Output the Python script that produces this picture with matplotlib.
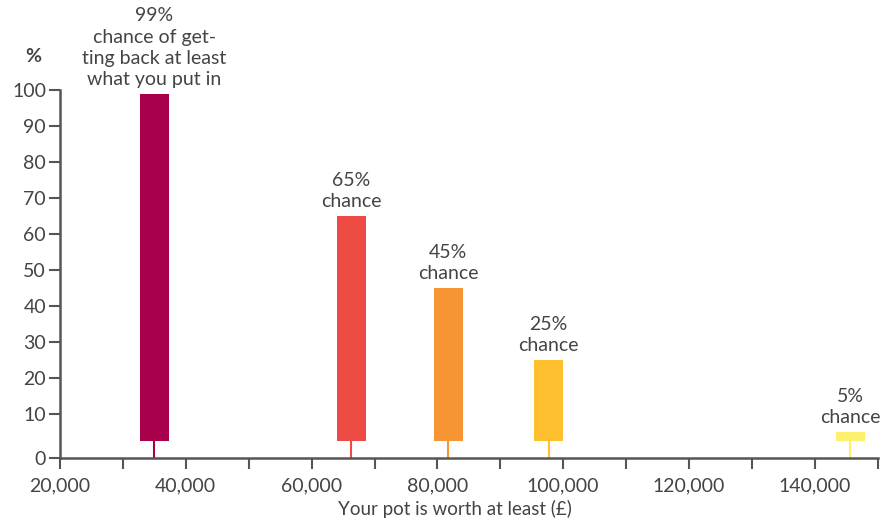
import matplotlib.pyplot as plt
from matplotlib.ticker import FuncFormatter

plt.rcParams['font.family'] = ['Lato', 'DejaVu Sans']

# Pot value thresholds (£) and chance of reaching them (%)
pot_values = [35000, 66300, 81700, 97700, 145600]
chances = [99, 65, 45, 25, 5]
labels = [
    "99%\nchance of get-\nting back at least\nwhat you put in",
    "65%\nchance",
    "45%\nchance",
    "25%\nchance",
    "5%\nchance",
]
colors = ['#A8004A', '#EF4B45', '#F79433', '#FEC02F', '#FDF06C']

x_major = [20000, 40000, 60000, 80000, 100000, 120000, 140000]
x_minor = [30000, 50000, 70000, 90000, 110000, 130000, 150000]
y_ticks = [10, 20, 30, 40, 50, 60, 70, 80, 90, 100]

text_col = '#444444'
axis_col = '#555555'
y_floor = -2.3   # where the x axis sits
bar_base = 2.3   # bars float a little above the axis

fig = plt.figure(figsize=(8.89, 5.23), dpi=100)
ax = fig.add_axes([0.0675, 0.1243, 0.9198, 0.7036])

heights = [c - bar_base for c in chances]
ax.bar(pot_values, heights, bottom=bar_base, width=4600, color=colors, zorder=3)
ax.vlines(pot_values, y_floor, bar_base, colors=colors, linewidth=1.5, zorder=2)

for x, c, lab in zip(pot_values, chances, labels):
    ax.annotate(lab, (x, c), xytext=(0, 4), textcoords='offset points',
                ha='center', va='bottom', fontsize=14, color=text_col,
                linespacing=1.3)

ax.set_xlim(20000, 150000)
ax.set_ylim(y_floor, 100)

ax.set_xticks(x_major)
ax.set_xticks(x_minor, minor=True)
ax.xaxis.set_major_formatter(FuncFormatter(lambda v, p: f"{int(v):,}"))
ax.set_yticks([y_floor] + y_ticks)
ax.set_yticklabels(['0'] + [str(t) for t in y_ticks])

for side in ['top', 'right']:
    ax.spines[side].set_visible(False)
for side in ['left', 'bottom']:
    ax.spines[side].set_color(axis_col)
    ax.spines[side].set_linewidth(1.8)

ax.tick_params(axis='both', which='both', colors=axis_col, width=1.5,
               labelcolor=text_col, labelsize=14)
ax.tick_params(axis='y', length=8, pad=2)
ax.tick_params(axis='x', which='both', length=8, pad=6)

ax.set_xlabel("Your pot is worth at least (£)", fontsize=13.5, color=text_col)
ax.xaxis.set_label_coords(0.4825, -0.115)

fig.text(33 / 889, 1 - 57 / 523, "%", fontsize=14, fontweight='bold',
         color=text_col, ha='center', va='center')

fig.savefig('out.png', dpi=100)
